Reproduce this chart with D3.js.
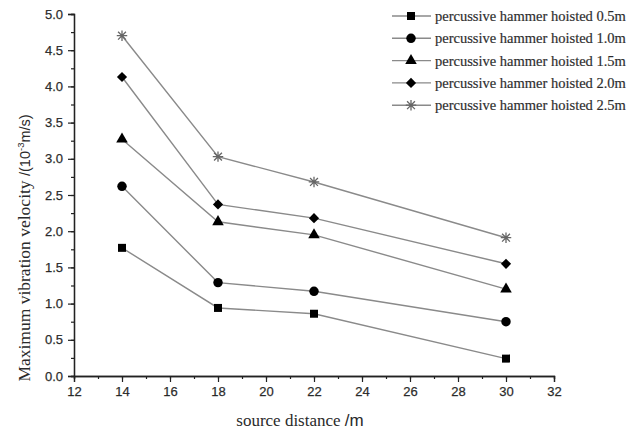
<!DOCTYPE html>
<html><head><meta charset="utf-8">
<script src="https://cdn.jsdelivr.net/npm/d3@7"></script>
<style>body{margin:0;background:#fff}</style>
</head><body>
<svg id="c" width="642" height="435"></svg>
<script>
const distances = [14, 18, 22, 30];
const seriesNames = [
  "percussive hammer hoisted 0.5m",
  "percussive hammer hoisted 1.0m",
  "percussive hammer hoisted 1.5m",
  "percussive hammer hoisted 2.0m",
  "percussive hammer hoisted 2.5m"
];
const h05 = [1.77, 0.94, 0.86, 0.24];
const h10 = [2.62, 1.29, 1.17, 0.75];
const h15 = [3.27, 2.13, 1.95, 1.20];
const h20 = [4.13, 2.37, 2.18, 1.55];
const h25 = [4.70, 3.03, 2.68, 1.91];
const xTickLabels = [12, 14, 16, 18, 20, 22, 24, 26, 28, 30, 32];
const yTickLabels = [0, 0.5, 1.0, 1.5, 2.0, 2.5, 3.0, 3.5, 4.0, 4.5, 5.0];
const xMinor = d3.range(12, 33, 1);
const yMinor = d3.range(0, 5.01, 0.25);

const seriesValues = [h05, h10, h15, h20, h25];

const svg = d3.select("#c");
const x = d3.scaleLinear().domain([12, 32]).range([74, 554]);
const y = d3.scaleLinear().domain([0, 5]).range([376, 14]);

const axisColor = "#222";
const labelFont = "'Liberation Sans', Arial, sans-serif";
const serif = "'Liberation Serif', 'Times New Roman', serif";

// minor ticks
const gx = svg.append("g").attr("transform", "translate(0,376)");
gx.call(d3.axisBottom(x).tickValues(xMinor).tickSize(3).tickFormat(""));
const gx2 = svg.append("g").attr("transform", "translate(0,376)");
gx2.call(d3.axisBottom(x).tickValues(xTickLabels).tickSize(6).tickPadding(5).tickFormat(d3.format("d")));
const gy = svg.append("g").attr("transform", "translate(74,0)");
gy.call(d3.axisLeft(y).tickValues(yMinor).tickSize(3).tickFormat(""));
const gy2 = svg.append("g").attr("transform", "translate(74,0)");
gy2.call(d3.axisLeft(y).tickValues(yTickLabels).tickSize(6).tickPadding(5).tickFormat(d3.format(".1f")));
[gx, gx2, gy, gy2].forEach(g => {
  g.selectAll("path.domain").attr("stroke", axisColor).attr("stroke-width", 1.3);
  g.selectAll("line").attr("stroke", axisColor).attr("stroke-width", 1.2);
  g.selectAll("text").attr("fill", "#222").attr("stroke", "#444").attr("stroke-width", 0.25)
    .style("font-family", labelFont).style("font-size", "13px");
});

// custom symbols
const rotSquare = {draw(ctx, size) { const r = Math.sqrt(size) / 2 * Math.SQRT2;
  ctx.moveTo(0, -r); ctx.lineTo(r, 0); ctx.lineTo(0, r); ctx.lineTo(-r, 0); ctx.closePath(); }};
const star = {draw(ctx, size) { const r = Math.sqrt(size) / 2; const d = r * 0.75;
  ctx.moveTo(-r, 0); ctx.lineTo(r, 0); ctx.moveTo(0, -r); ctx.lineTo(0, r);
  ctx.moveTo(-d, -d); ctx.lineTo(d, d); ctx.moveTo(-d, d); ctx.lineTo(d, -d); }};
const symbols = [
  {type: d3.symbolSquare, size: 64, fill: "#000", stroke: "none"},
  {type: d3.symbolCircle, size: 70, fill: "#000", stroke: "none"},
  {type: d3.symbolTriangle, size: 58, fill: "#000", stroke: "none"},
  {type: rotSquare, size: 52, fill: "#000", stroke: "none"},
  {type: star, size: 110, fill: "none", stroke: "#666"}
];

const line = d3.line().x((d, i) => x(distances[i])).y(d => y(d));

seriesValues.forEach((vals, s) => {
  svg.append("path").attr("d", line(vals)).attr("fill", "none")
    .attr("stroke", "#8a8a8a").attr("stroke-width", 1.4);
});
seriesValues.forEach((vals, s) => {
  const sym = symbols[s];
  svg.append("g").selectAll("path").data(vals).join("path")
    .attr("transform", (d, i) => `translate(${x(distances[i])},${y(d)})`)
    .attr("d", d3.symbol().type(sym.type).size(sym.size))
    .attr("fill", sym.fill).attr("stroke", sym.stroke).attr("stroke-width", 1.3);
});

// legend
const lg = svg.append("g");
seriesNames.forEach((name, s) => {
  const yy = 16 + s * 22.3;
  const sym = symbols[s];
  lg.append("line").attr("x1", 392).attr("x2", 431).attr("y1", yy).attr("y2", yy)
    .attr("stroke", "#8a8a8a").attr("stroke-width", 1.4);
  lg.append("path").attr("transform", `translate(411,${yy})`)
    .attr("d", d3.symbol().type(sym.type).size(sym.size))
    .attr("fill", sym.fill).attr("stroke", sym.stroke).attr("stroke-width", 1.3);
  lg.append("text").attr("x", 435).attr("y", yy + 5).text(name)
    .attr("fill", "#2a2a2a").attr("stroke", "#444").attr("stroke-width", 0.2)
    .style("font-family", serif).style("font-size", "14.5px");
});

// x title
const xt = svg.append("text").attr("x", 300).attr("y", 426).attr("text-anchor", "middle").attr("fill", "#2a2a2a");
xt.append("tspan").style("font-family", serif).style("font-size", "17px").text("source distance ");
xt.append("tspan").style("font-family", labelFont).style("font-size", "17px").text("/m");

// y title
const yt = svg.append("text").attr("transform", "translate(30,248) rotate(-90)")
  .attr("text-anchor", "middle").attr("fill", "#2a2a2a");
yt.append("tspan").style("font-family", serif).style("font-size", "17.5px").text("Maximum vibration velocity ");
yt.append("tspan").style("font-family", labelFont).style("font-size", "14.5px").text("/(10");
yt.append("tspan").style("font-family", labelFont).style("font-size", "9.5px").attr("dy", -6).text("-3");
yt.append("tspan").style("font-family", labelFont).style("font-size", "14.5px").attr("dy", 6).text("m/s)");
</script>
</body></html>
